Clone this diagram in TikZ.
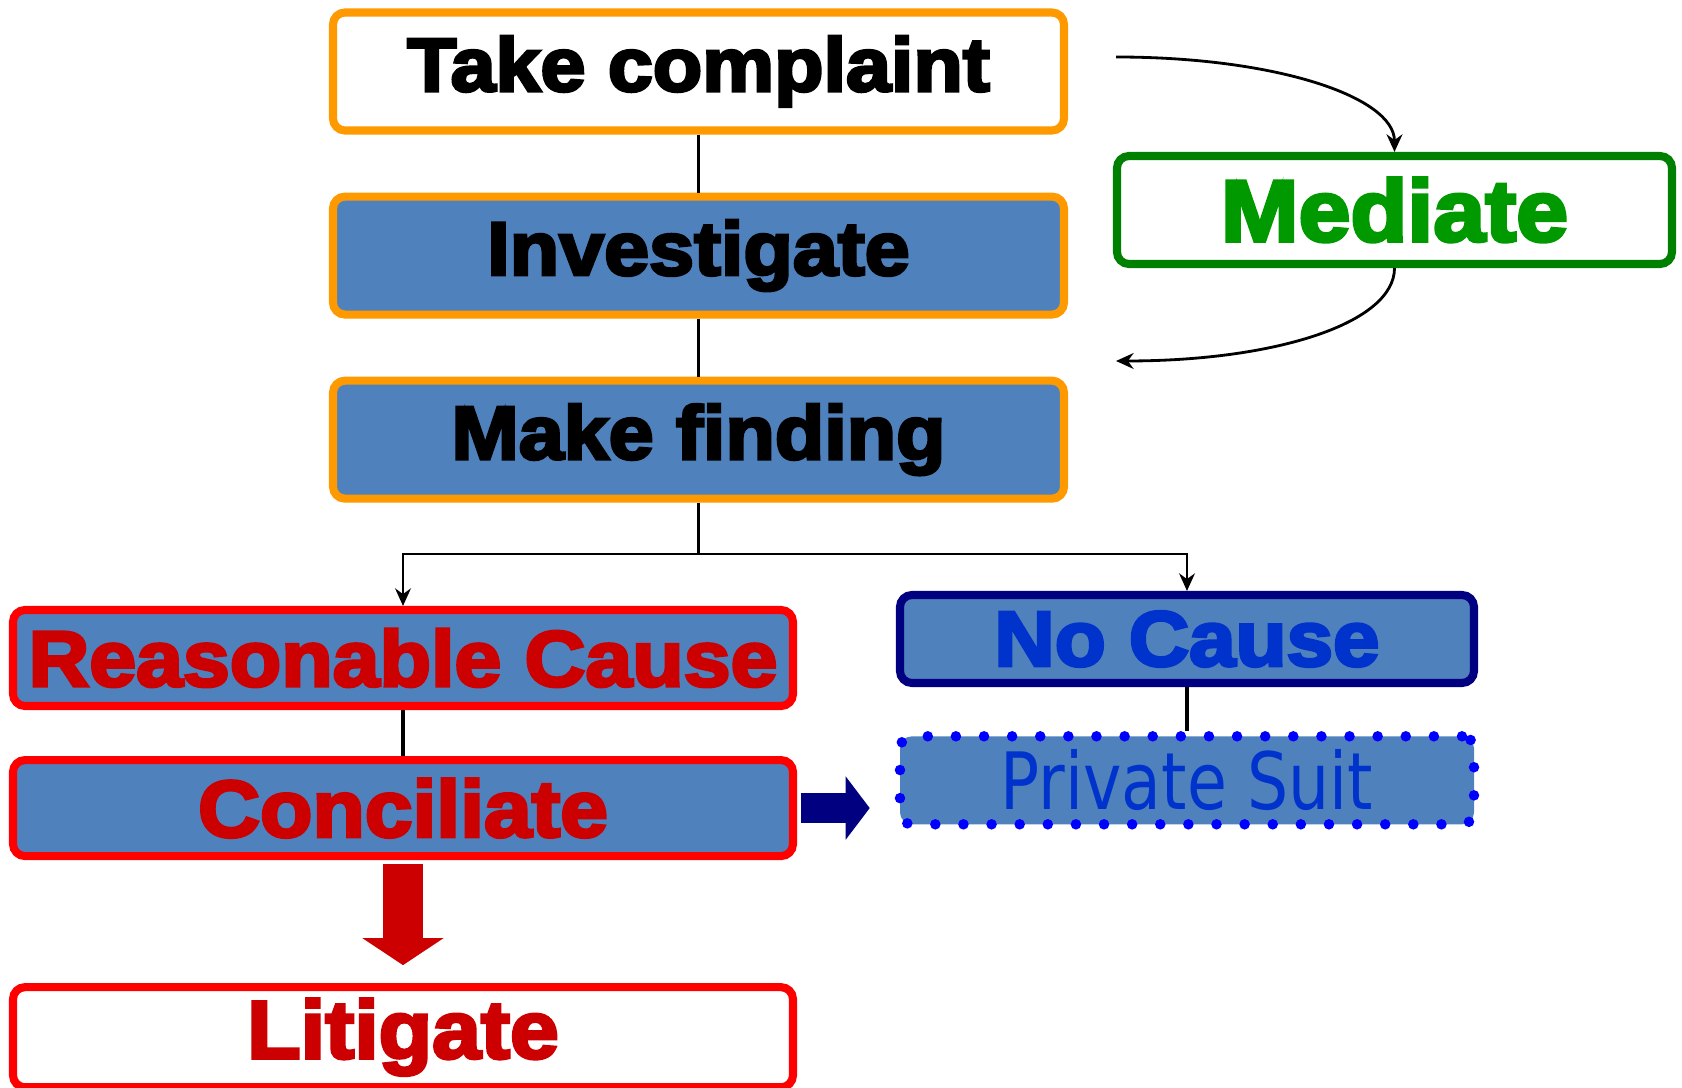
\documentclass[tikz,border=0pt]{standalone}
\usepackage{fontspec}
\usepackage{tikz}
\usetikzlibrary{positioning,arrows.meta}
\newfontfamily\heavyfont[FakeStretch=1.07,BoldFeatures={FakeBold=4}]{Liberation Sans}
\newfontfamily\plainfont[FakeStretch=0.82]{DejaVu Sans}
\definecolor{boxblue}{RGB}{79,129,189}
\definecolor{boxorange}{RGB}{255,153,0}
\definecolor{boxred}{RGB}{255,0,0}
\definecolor{textred}{RGB}{204,0,0}
\definecolor{boxgreen}{RGB}{0,128,0}
\definecolor{textgreen}{RGB}{0,153,0}
\definecolor{boxnavy}{RGB}{0,0,128}
\definecolor{textblue}{RGB}{0,51,204}
\definecolor{dotblue}{RGB}{0,0,255}

\begin{document}
\begin{tikzpicture}[
    stage/.style={rectangle, rounded corners=0.12cm, line width=2.3pt, align=center, font=\heavyfont\bfseries\fontsize{21.5}{24}\selectfont},
    upper/.style={stage, draw=boxorange, minimum width=7.31cm, minimum height=1.18cm},
    lower/.style={stage, draw=boxred, text=textred, minimum width=7.80cm, minimum height=0.96cm},
    side/.style={stage, minimum width=5.74cm, minimum height=0.88cm},
    link/.style={line width=1pt},
    branch/.style={-{Stealth[length=5pt,width=4.5pt]}, line width=0.6pt},
    curvearrow/.style={-{Stealth[length=5pt,width=4.5pt]}, line width=0.8pt},
    blockright/.style={-{Triangle[width=0.62cm,length=0.24cm]}, line width=0.30cm, boxnavy},
    blockdown/.style={-{Triangle[width=0.80cm,length=0.27cm]}, line width=0.40cm, textred}
]
    \useasboundingbox (0,0) rectangle (16.82,10.88);

    \node[upper, fill=white] (take) at (6.985,10.165) {Take complaint};
    \node[upper, fill=boxblue, below=0.58cm of take] (invest) {Investigate};
    \node[upper, fill=boxblue, below=0.58cm of invest] (finding) {Make finding};

    \node[stage, draw=boxgreen, text=textgreen, fill=white, minimum width=5.55cm, minimum height=1.08cm,
          font=\heavyfont\bfseries\fontsize{24.8}{28}\selectfont] (mediate) at (13.945,8.78) {Mediate};

    \node[lower, fill=boxblue, font=\heavyfont\bfseries\fontsize{22.4}{25}\selectfont] (reason) at (4.03,4.30) {Reasonable Cause};
    \node[lower, fill=boxblue, below=0.46cm of reason, font=\heavyfont\bfseries\fontsize{22.8}{25}\selectfont] (concil) {Conciliate};
    \node[lower, fill=white, minimum height=0.90cm, below=1.23cm of concil, font=\heavyfont\bfseries\fontsize{23.3}{26}\selectfont] (litig) {Litigate};

    \node[side, draw=boxnavy, text=textblue, fill=boxblue, font=\heavyfont\bfseries\fontsize{22.2}{25}\selectfont] (nocause) at (11.87,4.49) {No Cause};
    \node[side, draw=dotblue, fill=boxblue, text=textblue, dash pattern=on 0pt off 8pt, line cap=round, line width=3pt,
          below=0.44cm of nocause, font=\plainfont\fontsize{22.5}{25}\selectfont] (private) {Private Suit};

    % main line of the complaint
    \draw[link] (take.south) -- (invest.north);
    \draw[link] (invest.south) -- (finding.north);
    \draw[link] (reason.south) -- (concil.north);
    \draw[link] (nocause.south) -- (private.north);

    % the finding splits in two
    \coordinate (split) at (6.985,5.34);
    \draw[branch] (finding.south) -- (split) -| (reason.north);
    \draw[branch] (split) -| (nocause.north);

    % side trip to mediation
    \coordinate (tcout) at (11.16,10.31);
    \coordinate (tcback) at (11.16,7.27);
    \draw[curvearrow] (tcout) .. controls +(1.6,0) and +(0,0.55) .. (mediate.north);
    \draw[curvearrow] (mediate.south) .. controls +(0,-0.55) and +(1.6,0) .. (tcback);

    % block arrows out of conciliation
    \draw[blockright, shorten <=1pt, shorten >=0.25cm] (concil.east) -- (concil.east -| private.west);
    \draw[blockdown, shorten <=1pt, shorten >=0.18cm] (concil.south) -- (litig.north);
\end{tikzpicture}
\end{document}
